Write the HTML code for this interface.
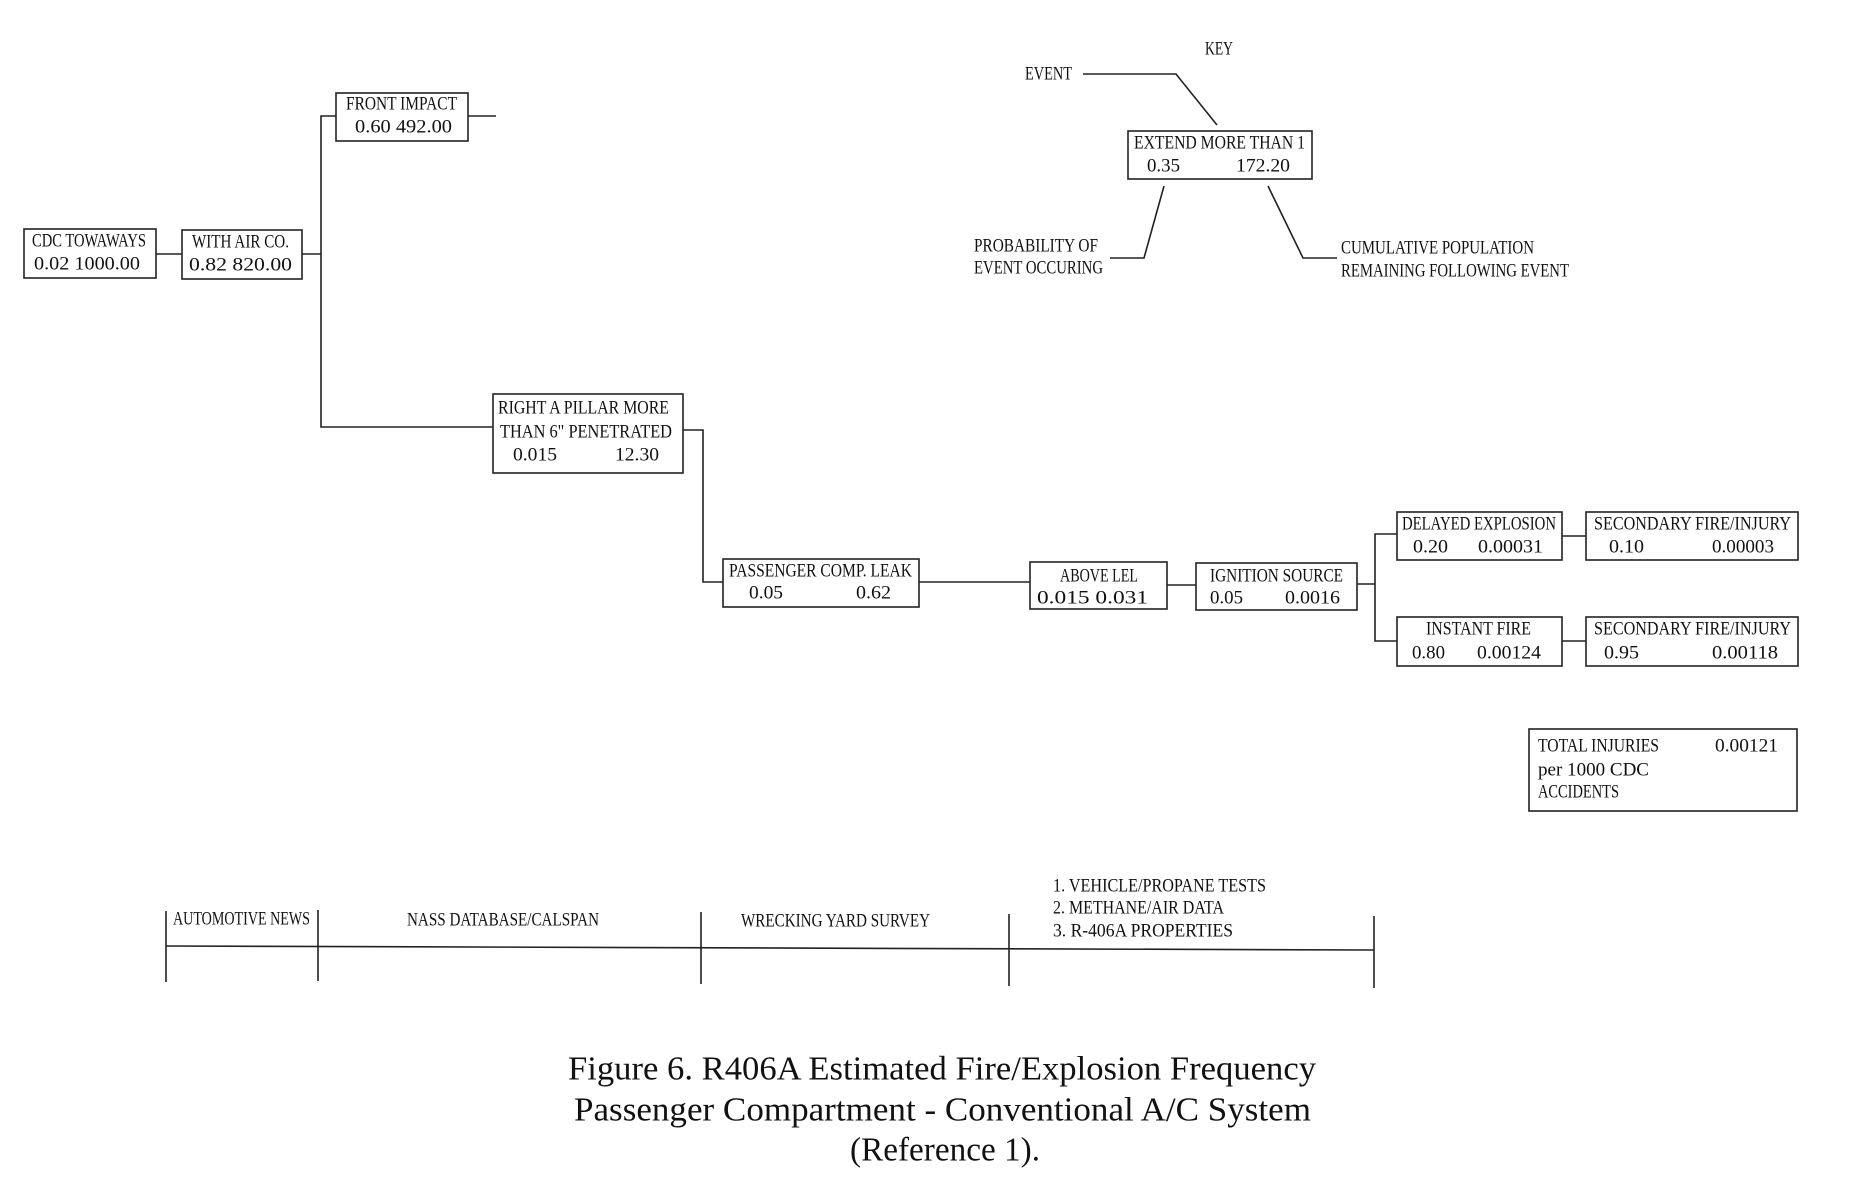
<!DOCTYPE html>
<html><head><meta charset="utf-8"><style>
html,body{margin:0;padding:0;background:#fff;}
svg{display:block;}
text{font-family:"Liberation Serif",serif;font-size:19px;fill:#111;dominant-baseline:central;}
.c{font-size:34px;}
</style></head><body>
<svg width="1862" height="1193" viewBox="0 0 1862 1193" xmlns="http://www.w3.org/2000/svg">
<g fill="none" stroke="#222" stroke-width="1.6">
<rect x="24" y="229" width="132" height="49"/>
<rect x="182" y="230" width="120" height="49"/>
<rect x="336" y="93" width="132" height="48"/>
<rect x="493" y="394" width="190" height="79"/>
<rect x="723" y="559" width="196" height="48"/>
<rect x="1030" y="562" width="137" height="47"/>
<rect x="1196" y="563" width="161" height="47"/>
<rect x="1397" y="512" width="165" height="48"/>
<rect x="1586" y="512" width="212" height="48"/>
<rect x="1397" y="617" width="165" height="49"/>
<rect x="1586" y="617" width="212" height="49"/>
<rect x="1529" y="729" width="268" height="82"/>
<rect x="1128" y="131" width="184" height="48"/>
<polyline points="156,254 182,254"/>
<polyline points="302,254 321,254"/>
<polyline points="336,116 321,116 321,427 493,427"/>
<polyline points="468,116 496,116"/>
<polyline points="683,430 703,430 703,582 723,582"/>
<polyline points="919,582 1030,582"/>
<polyline points="1167,585 1196,585"/>
<polyline points="1357,584 1375,584"/>
<polyline points="1397,534 1375,534 1375,641 1397,641"/>
<polyline points="1562,536 1586,536"/>
<polyline points="1562,641 1586,641"/>
<polyline points="1083,74 1176,74 1217,125"/>
<polyline points="1164,186 1144,258 1110,258"/>
<polyline points="1268,186 1303,258 1337,258"/>
<polyline points="166,946 1374,950"/>
<line x1="166" y1="911" x2="166" y2="982"/>
<line x1="318" y1="910" x2="318" y2="981"/>
<line x1="701" y1="912" x2="701" y2="984"/>
<line x1="1009" y1="914" x2="1009" y2="986"/>
<line x1="1374" y1="916" x2="1374" y2="988"/>
</g>
<g>
<text x="32" y="241" textLength="114" lengthAdjust="spacingAndGlyphs">CDC TOWAWAYS</text>
<text x="34" y="264" textLength="106" lengthAdjust="spacingAndGlyphs">0.02 1000.00</text>
<text x="192" y="242" textLength="97" lengthAdjust="spacingAndGlyphs">WITH AIR CO.</text>
<text x="189" y="265" textLength="103" lengthAdjust="spacingAndGlyphs">0.82  820.00</text>
<text x="346" y="104" textLength="111" lengthAdjust="spacingAndGlyphs">FRONT IMPACT</text>
<text x="355" y="127" textLength="97" lengthAdjust="spacingAndGlyphs">0.60 492.00</text>
<text x="498" y="408" textLength="171" lengthAdjust="spacingAndGlyphs">RIGHT A PILLAR MORE</text>
<text x="500" y="432" textLength="172" lengthAdjust="spacingAndGlyphs">THAN 6" PENETRATED</text>
<text x="513" y="455" textLength="44" lengthAdjust="spacingAndGlyphs">0.015</text>
<text x="615" y="455" textLength="44" lengthAdjust="spacingAndGlyphs">12.30</text>
<text x="729" y="571" textLength="183" lengthAdjust="spacingAndGlyphs">PASSENGER COMP. LEAK</text>
<text x="749" y="593" textLength="34" lengthAdjust="spacingAndGlyphs">0.05</text>
<text x="856" y="593" textLength="35" lengthAdjust="spacingAndGlyphs">0.62</text>
<text x="1060" y="576" textLength="78" lengthAdjust="spacingAndGlyphs">ABOVE LEL</text>
<text x="1037" y="598" textLength="111" lengthAdjust="spacingAndGlyphs">0.015  0.031</text>
<text x="1210" y="576" textLength="133" lengthAdjust="spacingAndGlyphs">IGNITION SOURCE</text>
<text x="1210" y="598" textLength="33" lengthAdjust="spacingAndGlyphs">0.05</text>
<text x="1285" y="598" textLength="55" lengthAdjust="spacingAndGlyphs">0.0016</text>
<text x="1402" y="524" textLength="154" lengthAdjust="spacingAndGlyphs">DELAYED EXPLOSION</text>
<text x="1413" y="547" textLength="35" lengthAdjust="spacingAndGlyphs">0.20</text>
<text x="1478" y="547" textLength="65" lengthAdjust="spacingAndGlyphs">0.00031</text>
<text x="1594" y="524" textLength="197" lengthAdjust="spacingAndGlyphs">SECONDARY FIRE/INJURY</text>
<text x="1609" y="547" textLength="35" lengthAdjust="spacingAndGlyphs">0.10</text>
<text x="1712" y="547" textLength="62" lengthAdjust="spacingAndGlyphs">0.00003</text>
<text x="1426" y="629" textLength="105" lengthAdjust="spacingAndGlyphs">INSTANT FIRE</text>
<text x="1412" y="653" textLength="33" lengthAdjust="spacingAndGlyphs">0.80</text>
<text x="1477" y="653" textLength="64" lengthAdjust="spacingAndGlyphs">0.00124</text>
<text x="1594" y="629" textLength="197" lengthAdjust="spacingAndGlyphs">SECONDARY FIRE/INJURY</text>
<text x="1604" y="653" textLength="35" lengthAdjust="spacingAndGlyphs">0.95</text>
<text x="1712" y="653" textLength="66" lengthAdjust="spacingAndGlyphs">0.00118</text>
<text x="1538" y="746" textLength="121" lengthAdjust="spacingAndGlyphs">TOTAL INJURIES</text>
<text x="1715" y="746" textLength="63" lengthAdjust="spacingAndGlyphs">0.00121</text>
<text x="1538" y="770" textLength="111" lengthAdjust="spacingAndGlyphs">per 1000 CDC</text>
<text x="1538" y="792" textLength="81" lengthAdjust="spacingAndGlyphs">ACCIDENTS</text>
<text x="1205" y="49" textLength="28" lengthAdjust="spacingAndGlyphs">KEY</text>
<text x="1025" y="74" textLength="47" lengthAdjust="spacingAndGlyphs">EVENT</text>
<text x="1134" y="143" textLength="171" lengthAdjust="spacingAndGlyphs">EXTEND MORE THAN 1</text>
<text x="1147" y="166" textLength="33" lengthAdjust="spacingAndGlyphs">0.35</text>
<text x="1236" y="166" textLength="54" lengthAdjust="spacingAndGlyphs">172.20</text>
<text x="974" y="246" textLength="124" lengthAdjust="spacingAndGlyphs">PROBABILITY OF</text>
<text x="974" y="268" textLength="129" lengthAdjust="spacingAndGlyphs">EVENT OCCURING</text>
<text x="1341" y="248" textLength="193" lengthAdjust="spacingAndGlyphs">CUMULATIVE POPULATION</text>
<text x="1341" y="271" textLength="228" lengthAdjust="spacingAndGlyphs">REMAINING FOLLOWING EVENT</text>
<text x="173" y="919" textLength="137" lengthAdjust="spacingAndGlyphs">AUTOMOTIVE NEWS</text>
<text x="407" y="920" textLength="192" lengthAdjust="spacingAndGlyphs">NASS DATABASE/CALSPAN</text>
<text x="741" y="921" textLength="189" lengthAdjust="spacingAndGlyphs">WRECKING YARD SURVEY</text>
<text x="1053" y="886" textLength="213" lengthAdjust="spacingAndGlyphs">1. VEHICLE/PROPANE TESTS</text>
<text x="1053" y="908" textLength="171" lengthAdjust="spacingAndGlyphs">2. METHANE/AIR DATA</text>
<text x="1053" y="931" textLength="180" lengthAdjust="spacingAndGlyphs">3. R-406A PROPERTIES</text>
<text class="c" x="568" y="1069" textLength="748" lengthAdjust="spacingAndGlyphs">Figure 6. R406A Estimated Fire/Explosion Frequency</text>
<text class="c" x="574" y="1110" textLength="737" lengthAdjust="spacingAndGlyphs">Passenger Compartment - Conventional A/C System</text>
<text class="c" x="850" y="1150" textLength="190" lengthAdjust="spacingAndGlyphs">(Reference 1).</text>
</g>
</svg>
</body></html>
